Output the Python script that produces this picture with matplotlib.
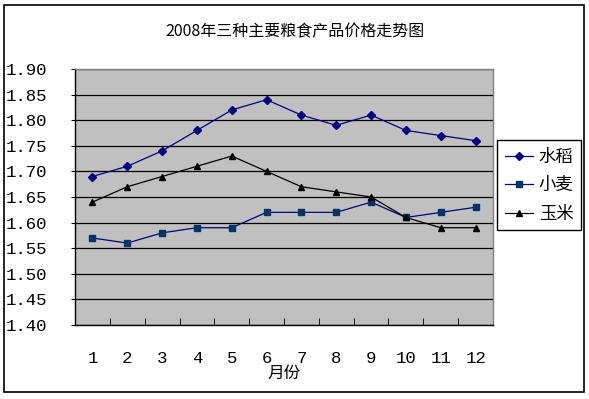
import matplotlib
matplotlib.use("Agg")
import matplotlib.pyplot as plt
from matplotlib.patches import Rectangle

plt.rcParams['font.family'] = ['Noto Sans CJK SC', 'DejaVu Sans']

months = [1, 2, 3, 4, 5, 6, 7, 8, 9, 10, 11, 12]
rice = [1.69, 1.71, 1.74, 1.78, 1.82, 1.84, 1.81, 1.79, 1.81, 1.78, 1.77, 1.76]
wheat = [1.57, 1.56, 1.58, 1.59, 1.59, 1.62, 1.62, 1.62, 1.64, 1.61, 1.62, 1.63]
corn = [1.64, 1.67, 1.69, 1.71, 1.73, 1.70, 1.67, 1.66, 1.65, 1.61, 1.59, 1.59]
yticks = [1.40, 1.45, 1.50, 1.55, 1.60, 1.65, 1.70, 1.75, 1.80, 1.85, 1.90]

num_font = ['Liberation Mono', 'DejaVu Sans Mono']

fig = plt.figure(figsize=(5.89, 3.99), dpi=100)
fig.patches.append(Rectangle((4/589, 1-392/399), 580/589, 387/399, transform=fig.transFigure,
                             fill=False, edgecolor='black', linewidth=1.2))
ax = fig.add_axes([75/589, 1-325/399, 418/589, 256/399])
ax.set_facecolor('#C0C0C0')

ax.plot(months, rice, color='#000080', marker='D', markersize=4, linewidth=0.9, label='水稻')
ax.plot(months, wheat, color='#000080', marker='s', markersize=4.5, markerfacecolor='#003366',
        markeredgecolor='#003366', linewidth=0.9, label='小麦')
ax.plot(months, corn, color='black', marker='^', markersize=5, linewidth=0.9, label='玉米')

ax.set_xlim(0.5, 12.5)
ax.set_ylim(1.40, 1.90)
ax.set_yticks(yticks)
ax.set_yticklabels([f"{v:.2f}" for v in yticks], fontsize=12.5, family=num_font)
ax.yaxis.grid(True, color='black', linewidth=0.9)
ax.set_axisbelow(True)
ax.tick_params(axis='y', length=3, pad=17)

ax.set_xticks([m + 0.5 for m in months[:-1]], minor=True)
ax.set_xticks(months)
ax.set_xticklabels([str(m) for m in months], fontsize=12.5, family=num_font)
ax.tick_params(axis='x', which='major', length=0, pad=19)
ax.tick_params(axis='x', which='minor', direction='in', length=5, color='black')
ax.set_xlabel('月份', fontsize=12, labelpad=-1)

for s in ax.spines.values():
    s.set_color('#808080')
    s.set_linewidth(1)
ax.spines['bottom'].set_color('black')
ax.spines['left'].set_color('black')

fig.text(0.5, 1-32/399, '2008年三种主要粮食产品价格走势图', ha='center', va='center', fontsize=11.5)

leg = ax.legend(loc='upper left', bbox_to_anchor=(497/589, 1-140/399), bbox_transform=fig.transFigure,
                fontsize=12.5, frameon=True, fancybox=False, edgecolor='black', framealpha=1,
                handlelength=1.6, borderpad=0.45, labelspacing=0.6, handletextpad=0.35,
                borderaxespad=0)
leg.get_frame().set_linewidth(1)
for h in leg.legend_handles:
    h.set_markersize(4)

fig.savefig('out.png', dpi=100)
